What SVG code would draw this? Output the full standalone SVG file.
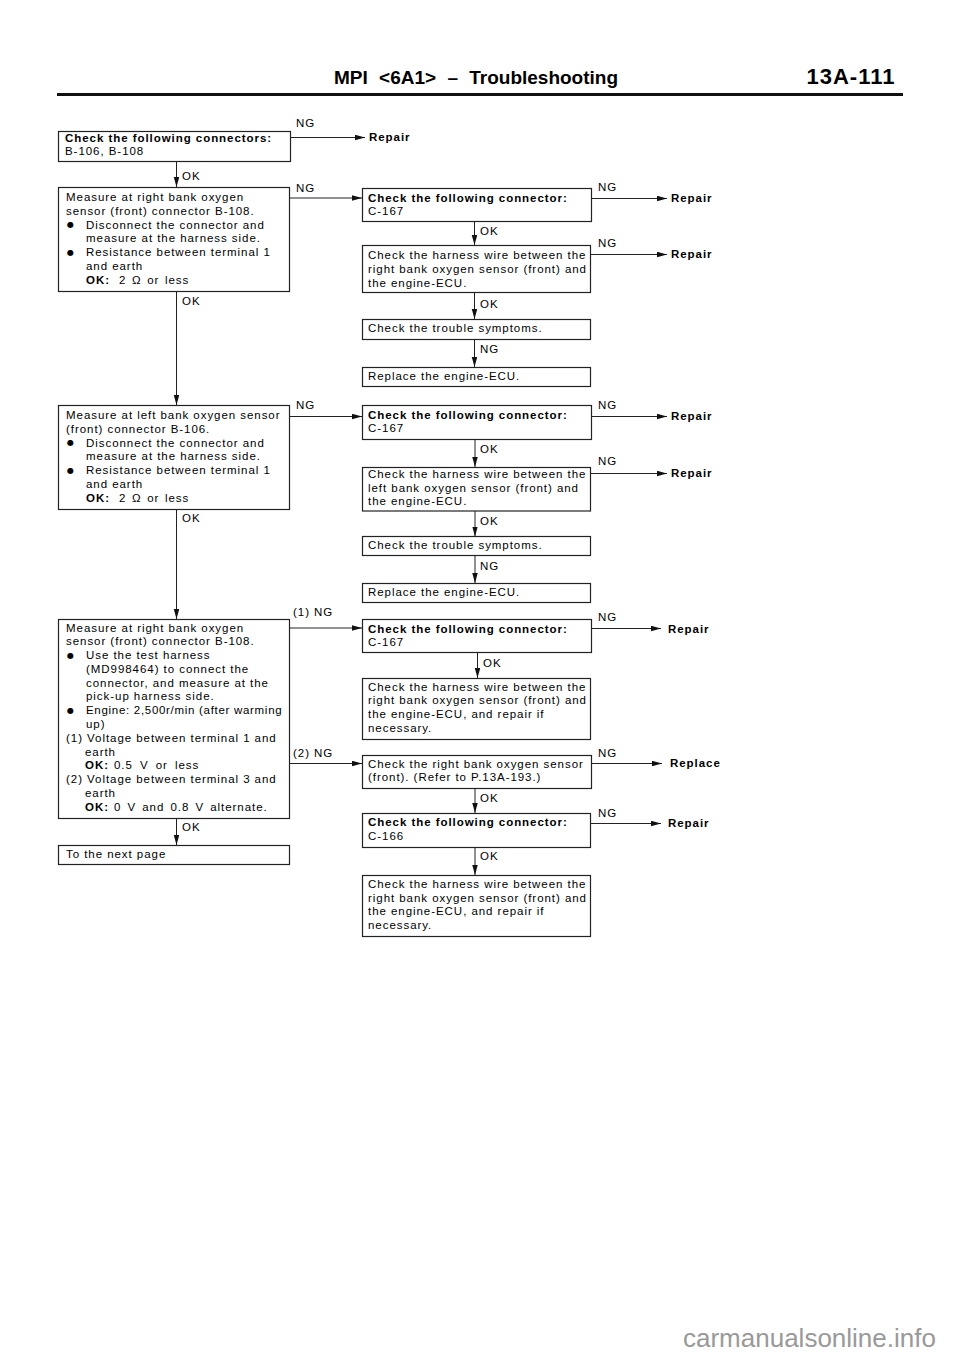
<svg xmlns="http://www.w3.org/2000/svg" width="960" height="1358" viewBox="0 0 960 1358">
<style>
text{font-family:"Liberation Sans",Arial,sans-serif;fill:#000;}
.t{font-size:11.5px;letter-spacing:0.95px;}
.b{font-size:11.5px;letter-spacing:0.95px;font-weight:bold;}
.bl{font-family:"DejaVu Sans",sans-serif;font-size:8px;letter-spacing:0;}
.box{fill:#fff;stroke:#222;stroke-width:1.2;}
.c{fill:none;stroke:#222;stroke-width:1;}
.h{font-weight:bold;}
.wm{font-size:26px;fill:#999;}
</style>
<defs>
<marker id="ah" markerUnits="userSpaceOnUse" markerWidth="11" markerHeight="6" refX="10" refY="2.75" orient="auto">
<path d="M0,0 L10,2.75 L0,5.5 z" fill="#111"/>
</marker>
</defs>
<rect width="960" height="1358" fill="#fff"/>

<g id="header">
<text class="h" x="334" y="83.5" font-size="19" word-spacing="6">MPI &lt;6A1&gt; – Troubleshooting</text>
<text class="h" x="806.5" y="83.5" font-size="22" letter-spacing="1">13A-111</text>
<line x1="57" y1="94.5" x2="903" y2="94.5" stroke="#111" stroke-width="3"/>
</g>

<g id="connectors">
<line class="c" x1="290.5" y1="137.5" x2="365" y2="137.5" marker-end="url(#ah)"/>
<line class="c" x1="176.5" y1="161.5" x2="176.5" y2="187" marker-end="url(#ah)"/>
<line class="c" x1="289.5" y1="198" x2="362" y2="198" marker-end="url(#ah)"/>
<line class="c" x1="591.5" y1="198.5" x2="667" y2="198.5" marker-end="url(#ah)"/>
<line class="c" x1="474.5" y1="221.5" x2="474.5" y2="245" marker-end="url(#ah)"/>
<line class="c" x1="590.5" y1="254.5" x2="667" y2="254.5" marker-end="url(#ah)"/>
<line class="c" x1="474.5" y1="292.5" x2="474.5" y2="319" marker-end="url(#ah)"/>
<line class="c" x1="474.5" y1="339.5" x2="474.5" y2="367" marker-end="url(#ah)"/>
<line class="c" x1="176.5" y1="291.5" x2="176.5" y2="405" marker-end="url(#ah)"/>
<line class="c" x1="289.5" y1="416.5" x2="362" y2="416.5" marker-end="url(#ah)"/>
<line class="c" x1="591.5" y1="416.5" x2="667" y2="416.5" marker-end="url(#ah)"/>
<line class="c" x1="475" y1="439.5" x2="475" y2="467" marker-end="url(#ah)"/>
<line class="c" x1="590.5" y1="473.5" x2="667" y2="473.5" marker-end="url(#ah)"/>
<line class="c" x1="475" y1="511" x2="475" y2="536.5" marker-end="url(#ah)"/>
<line class="c" x1="475" y1="555.5" x2="475" y2="583" marker-end="url(#ah)"/>
<line class="c" x1="176.5" y1="509.5" x2="176.5" y2="619" marker-end="url(#ah)"/>
<line class="c" x1="289.5" y1="628" x2="362" y2="628" marker-end="url(#ah)"/>
<line class="c" x1="591.5" y1="628.5" x2="661" y2="628.5" marker-end="url(#ah)"/>
<line class="c" x1="477.5" y1="652.5" x2="477.5" y2="678" marker-end="url(#ah)"/>
<line class="c" x1="289.5" y1="763.5" x2="362" y2="763.5" marker-end="url(#ah)"/>
<line class="c" x1="591.5" y1="763.5" x2="662" y2="763.5" marker-end="url(#ah)"/>
<line class="c" x1="475" y1="788.5" x2="475" y2="813" marker-end="url(#ah)"/>
<line class="c" x1="590.5" y1="823.5" x2="661" y2="823.5" marker-end="url(#ah)"/>
<line class="c" x1="475" y1="847.5" x2="475" y2="875" marker-end="url(#ah)"/>
<line class="c" x1="176.5" y1="818.5" x2="176.5" y2="845" marker-end="url(#ah)"/>

<text class="t" x="296" y="127">NG</text>
<text class="t" x="182" y="180">OK</text>
<text class="t" x="296" y="192">NG</text>
<text class="t" x="598" y="191">NG</text>
<text class="t" x="480" y="235">OK</text>
<text class="t" x="598" y="247">NG</text>
<text class="t" x="480" y="308">OK</text>
<text class="t" x="480" y="353">NG</text>
<text class="t" x="182" y="305">OK</text>
<text class="t" x="296" y="409">NG</text>
<text class="t" x="598" y="409">NG</text>
<text class="t" x="480" y="453">OK</text>
<text class="t" x="598" y="465">NG</text>
<text class="t" x="480" y="525">OK</text>
<text class="t" x="480" y="570">NG</text>
<text class="t" x="182" y="522">OK</text>
<text class="t" x="293" y="616">(1) NG</text>
<text class="t" x="598" y="621">NG</text>
<text class="t" x="483" y="667">OK</text>
<text class="t" x="293" y="757">(2) NG</text>
<text class="t" x="598" y="757">NG</text>
<text class="t" x="480" y="802">OK</text>
<text class="t" x="598" y="817">NG</text>
<text class="t" x="480" y="860">OK</text>
<text class="t" x="182" y="831">OK</text>
</g>

<g id="repair1"><text class="b" x="369" y="141">Repair</text></g>
<g id="repair2"><text class="b" x="671" y="202">Repair</text></g>
<g id="repair3"><text class="b" x="671" y="258">Repair</text></g>
<g id="repair4"><text class="b" x="671" y="420">Repair</text></g>
<g id="repair5"><text class="b" x="671" y="477">Repair</text></g>
<g id="repair6"><text class="b" x="668" y="633">Repair</text></g>
<g id="replace1"><text class="b" x="670" y="767">Replace</text></g>
<g id="repair7"><text class="b" x="668" y="827">Repair</text></g>

<g id="n1">
<rect class="box" x="58.5" y="131.5" width="232" height="30"/>
<text class="b" x="65" y="142">Check the following connectors:</text>
<text class="t" x="65" y="155">B-106, B-108</text>
</g>

<g id="n2">
<rect class="box" x="58.5" y="187.5" width="231" height="104"/>
<text class="t" x="66" y="201">Measure at right bank oxygen</text>
<text class="t" x="66" y="214.5">sensor (front) connector B-108.</text>
<text class="bl" x="67" y="227">●</text>
<text class="t" x="86" y="228.5">Disconnect the connector and</text>
<text class="t" x="86" y="242">measure at the harness side.</text>
<text class="bl" x="67" y="254.5">●</text>
<text class="t" x="86" y="256">Resistance between terminal 1</text>
<text class="t" x="86" y="270">and earth</text>
<text class="t" y="284"><tspan class="b" x="86">OK:</tspan><tspan x="119" word-spacing="1.5">2 Ω or less</tspan></text>
</g>

<g id="n3">
<rect class="box" x="362.5" y="188.5" width="229" height="33"/>
<text class="b" x="368" y="202">Check the following connector:</text>
<text class="t" x="368" y="215">C-167</text>
</g>

<g id="n4">
<rect class="box" x="362.5" y="245.5" width="228" height="47"/>
<text class="t" x="368" y="259">Check the harness wire between the</text>
<text class="t" x="368" y="273">right bank oxygen sensor (front) and</text>
<text class="t" x="368" y="287">the engine-ECU.</text>
</g>

<g id="n5">
<rect class="box" x="362.5" y="319.5" width="228" height="20"/>
<text class="t" x="368" y="332">Check the trouble symptoms.</text>
</g>

<g id="n6">
<rect class="box" x="362.5" y="367.5" width="228" height="19"/>
<text class="t" x="368" y="380">Replace the engine-ECU.</text>
</g>

<g id="n7">
<rect class="box" x="58.5" y="405.5" width="231" height="104"/>
<text class="t" x="66" y="419">Measure at left bank oxygen sensor</text>
<text class="t" x="66" y="432.5">(front) connector B-106.</text>
<text class="bl" x="67" y="445">●</text>
<text class="t" x="86" y="446.5">Disconnect the connector and</text>
<text class="t" x="86" y="460">measure at the harness side.</text>
<text class="bl" x="67" y="472.5">●</text>
<text class="t" x="86" y="474">Resistance between terminal 1</text>
<text class="t" x="86" y="488">and earth</text>
<text class="t" y="502"><tspan class="b" x="86">OK:</tspan><tspan x="119" word-spacing="1.5">2 Ω or less</tspan></text>
</g>

<g id="n8">
<rect class="box" x="362.5" y="405.5" width="229" height="34"/>
<text class="b" x="368" y="419">Check the following connector:</text>
<text class="t" x="368" y="432">C-167</text>
</g>

<g id="n9">
<rect class="box" x="362.5" y="467.5" width="228" height="43.5"/>
<text class="t" x="368" y="478">Check the harness wire between the</text>
<text class="t" x="368" y="491.5">left bank oxygen sensor (front) and</text>
<text class="t" x="368" y="505">the engine-ECU.</text>
</g>

<g id="n10">
<rect class="box" x="362.5" y="536.5" width="228" height="19"/>
<text class="t" x="368" y="548.5">Check the trouble symptoms.</text>
</g>

<g id="n11">
<rect class="box" x="362.5" y="583.5" width="228" height="19"/>
<text class="t" x="368" y="595.5">Replace the engine-ECU.</text>
</g>

<g id="n12">
<rect class="box" x="58.5" y="619.5" width="231" height="199"/>
<text class="t" x="66" y="631.5">Measure at right bank oxygen</text>
<text class="t" x="66" y="645">sensor (front) connector B-108.</text>
<text class="bl" x="67" y="657.5">●</text>
<text class="t" x="86" y="659">Use the test harness</text>
<text class="t" x="86" y="672.5">(MD998464) to connect the</text>
<text class="t" x="86" y="686.5">connector, and measure at the</text>
<text class="t" x="86" y="700">pick-up harness side.</text>
<text class="bl" x="67" y="712.5">●</text>
<text class="t" x="86" y="714" style="letter-spacing:0.7px">Engine: 2,500r/min (after warming</text>
<text class="t" x="86" y="728">up)</text>
<text class="t" x="66" y="741.5">(1) Voltage between terminal 1 and</text>
<text class="t" x="85" y="755.5">earth</text>
<text class="t" y="769"><tspan class="b" x="85">OK:</tspan><tspan x="114" word-spacing="3">0.5 V or less</tspan></text>
<text class="t" x="66" y="783">(2) Voltage between terminal 3 and</text>
<text class="t" x="85" y="797">earth</text>
<text class="t" y="810.5"><tspan class="b" x="85">OK:</tspan><tspan x="114" word-spacing="2">0 V and 0.8 V alternate.</tspan></text>
</g>

<g id="n13">
<rect class="box" x="58.5" y="845.5" width="231" height="19"/>
<text class="t" x="66" y="858">To the next page</text>
</g>

<g id="n14">
<rect class="box" x="362.5" y="619.5" width="229" height="33"/>
<text class="b" x="368" y="633">Check the following connector:</text>
<text class="t" x="368" y="646">C-167</text>
</g>

<g id="n15">
<rect class="box" x="362.5" y="678.5" width="228" height="61"/>
<text class="t" x="368" y="690.5">Check the harness wire between the</text>
<text class="t" x="368" y="704">right bank oxygen sensor (front) and</text>
<text class="t" x="368" y="718">the engine-ECU, and repair if</text>
<text class="t" x="368" y="731.5">necessary.</text>
</g>

<g id="n16">
<rect class="box" x="362.5" y="755.5" width="229" height="33"/>
<text class="t" x="368" y="768">Check the right bank oxygen sensor</text>
<text class="t" x="368" y="781">(front). (Refer to P.13A-193.)</text>
</g>

<g id="n17">
<rect class="box" x="362.5" y="813.5" width="228" height="34"/>
<text class="b" x="368" y="826">Check the following connector:</text>
<text class="t" x="368" y="839.5">C-166</text>
</g>

<g id="n18">
<rect class="box" x="362.5" y="875.5" width="228" height="61"/>
<text class="t" x="368" y="888">Check the harness wire between the</text>
<text class="t" x="368" y="901.5">right bank oxygen sensor (front) and</text>
<text class="t" x="368" y="915">the engine-ECU, and repair if</text>
<text class="t" x="368" y="929">necessary.</text>
</g>

<g id="watermark">
<text class="wm" x="683" y="1347">carmanualsonline.info</text>
</g>
</svg>
